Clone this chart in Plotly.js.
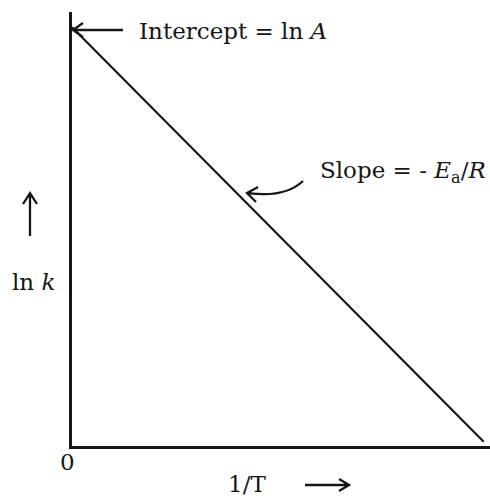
<!DOCTYPE html>
<html>
<head>
<meta charset="utf-8">
<script src="https://cdn.plot.ly/plotly-3.0.1.min.js"></script>
<style>
  html, body { margin: 0; padding: 0; background: #fff; }
  #chart { width: 490px; height: 496px; }
</style>
</head>
<body>
<div id="chart"></div>
<script>
// Arrhenius plot: ln k against 1/T (arbitrary units)
const invT = [0, 98.5]
const lnK = [96.5, 1]

const FONT = 'DejaVu Serif, Liberation Serif, serif'
const INK = '#161616'

// plot area in pixels: x 72..490, y 12..446
const L = 72, T = 12, W = 418, H = 434
function px2x(px) { return (px - L) / W }
function py2y(py) { return (T + H - py) / H }
function P(px, py) { return px2x(px).toFixed(4) + ',' + py2y(py).toFixed(4) }

function arrowPath(pts, tip, arm1, arm2) {
  return pts + ' M' + P(arm1[0], arm1[1]) + ' L' + P(tip[0], tip[1]) + ' L' + P(arm2[0], arm2[1])
}

const trace = {
  x: invT,
  y: lnK,
  mode: 'lines',
  type: 'scatter',
  line: { color: INK, width: 2.2 },
  hoverinfo: 'skip'
}

const arrowStyle = { color: INK, width: 2.3 }

const shapes = [
  // intercept arrow
  {
    type: 'path', xref: 'paper', yref: 'paper', line: arrowStyle,
    path: arrowPath('M' + P(123, 30) + ' L' + P(74, 30), [73, 30], [83, 23], [83, 37])
  },
  // slope arrow (curved)
  {
    type: 'path', xref: 'paper', yref: 'paper', line: arrowStyle,
    path: arrowPath('M' + P(303, 181) + ' Q' + P(285, 198) + ' ' + P(248, 193), [247, 193], [258, 187], [256, 202])
  },
  // up arrow next to ln k
  {
    type: 'path', xref: 'paper', yref: 'paper', line: arrowStyle,
    path: arrowPath('M' + P(30, 236) + ' L' + P(30, 194), [30, 193], [23, 204], [37, 204])
  },
  // right arrow next to 1/T
  {
    type: 'path', xref: 'paper', yref: 'paper', line: arrowStyle,
    path: arrowPath('M' + P(305, 485) + ' L' + P(348, 485), [349, 485], [339, 479], [339, 491])
  }
]

const annotations = [
  { x: px2x(137), y: py2y(31), xanchor: 'left', text: 'Intercept = ln <i>A</i>' },
  { x: px2x(318), y: py2y(172), xanchor: 'left', text: 'Slope = - <i>E</i><sub>a</sub>/<i>R</i>' },
  { x: px2x(33), y: py2y(282), xanchor: 'center', text: 'ln <i>k</i>' },
  { x: px2x(67), y: py2y(462), xanchor: 'center', text: '0' },
  { x: px2x(247), y: py2y(484), xanchor: 'center', text: '1/T' }
].map(a => Object.assign({
  xref: 'paper', yref: 'paper', showarrow: false, yanchor: 'middle',
  font: { family: FONT, size: 23, color: INK }
}, a))

const axisBase = {
  range: [0, 100],
  showgrid: false,
  zeroline: false,
  showticklabels: false,
  ticks: '',
  showline: true,
  linecolor: INK,
  linewidth: 3,
  fixedrange: true
}

const layout = {
  width: 490,
  height: 496,
  margin: { l: L, r: 490 - L - W, t: T, b: 496 - T - H },
  paper_bgcolor: '#fff',
  plot_bgcolor: '#fff',
  showlegend: false,
  xaxis: Object.assign({}, axisBase),
  yaxis: Object.assign({}, axisBase),
  shapes: shapes,
  annotations: annotations
}

Plotly.newPlot('chart', [trace], layout, { displayModeBar: false, staticPlot: true })
</script>
</body>
</html>
